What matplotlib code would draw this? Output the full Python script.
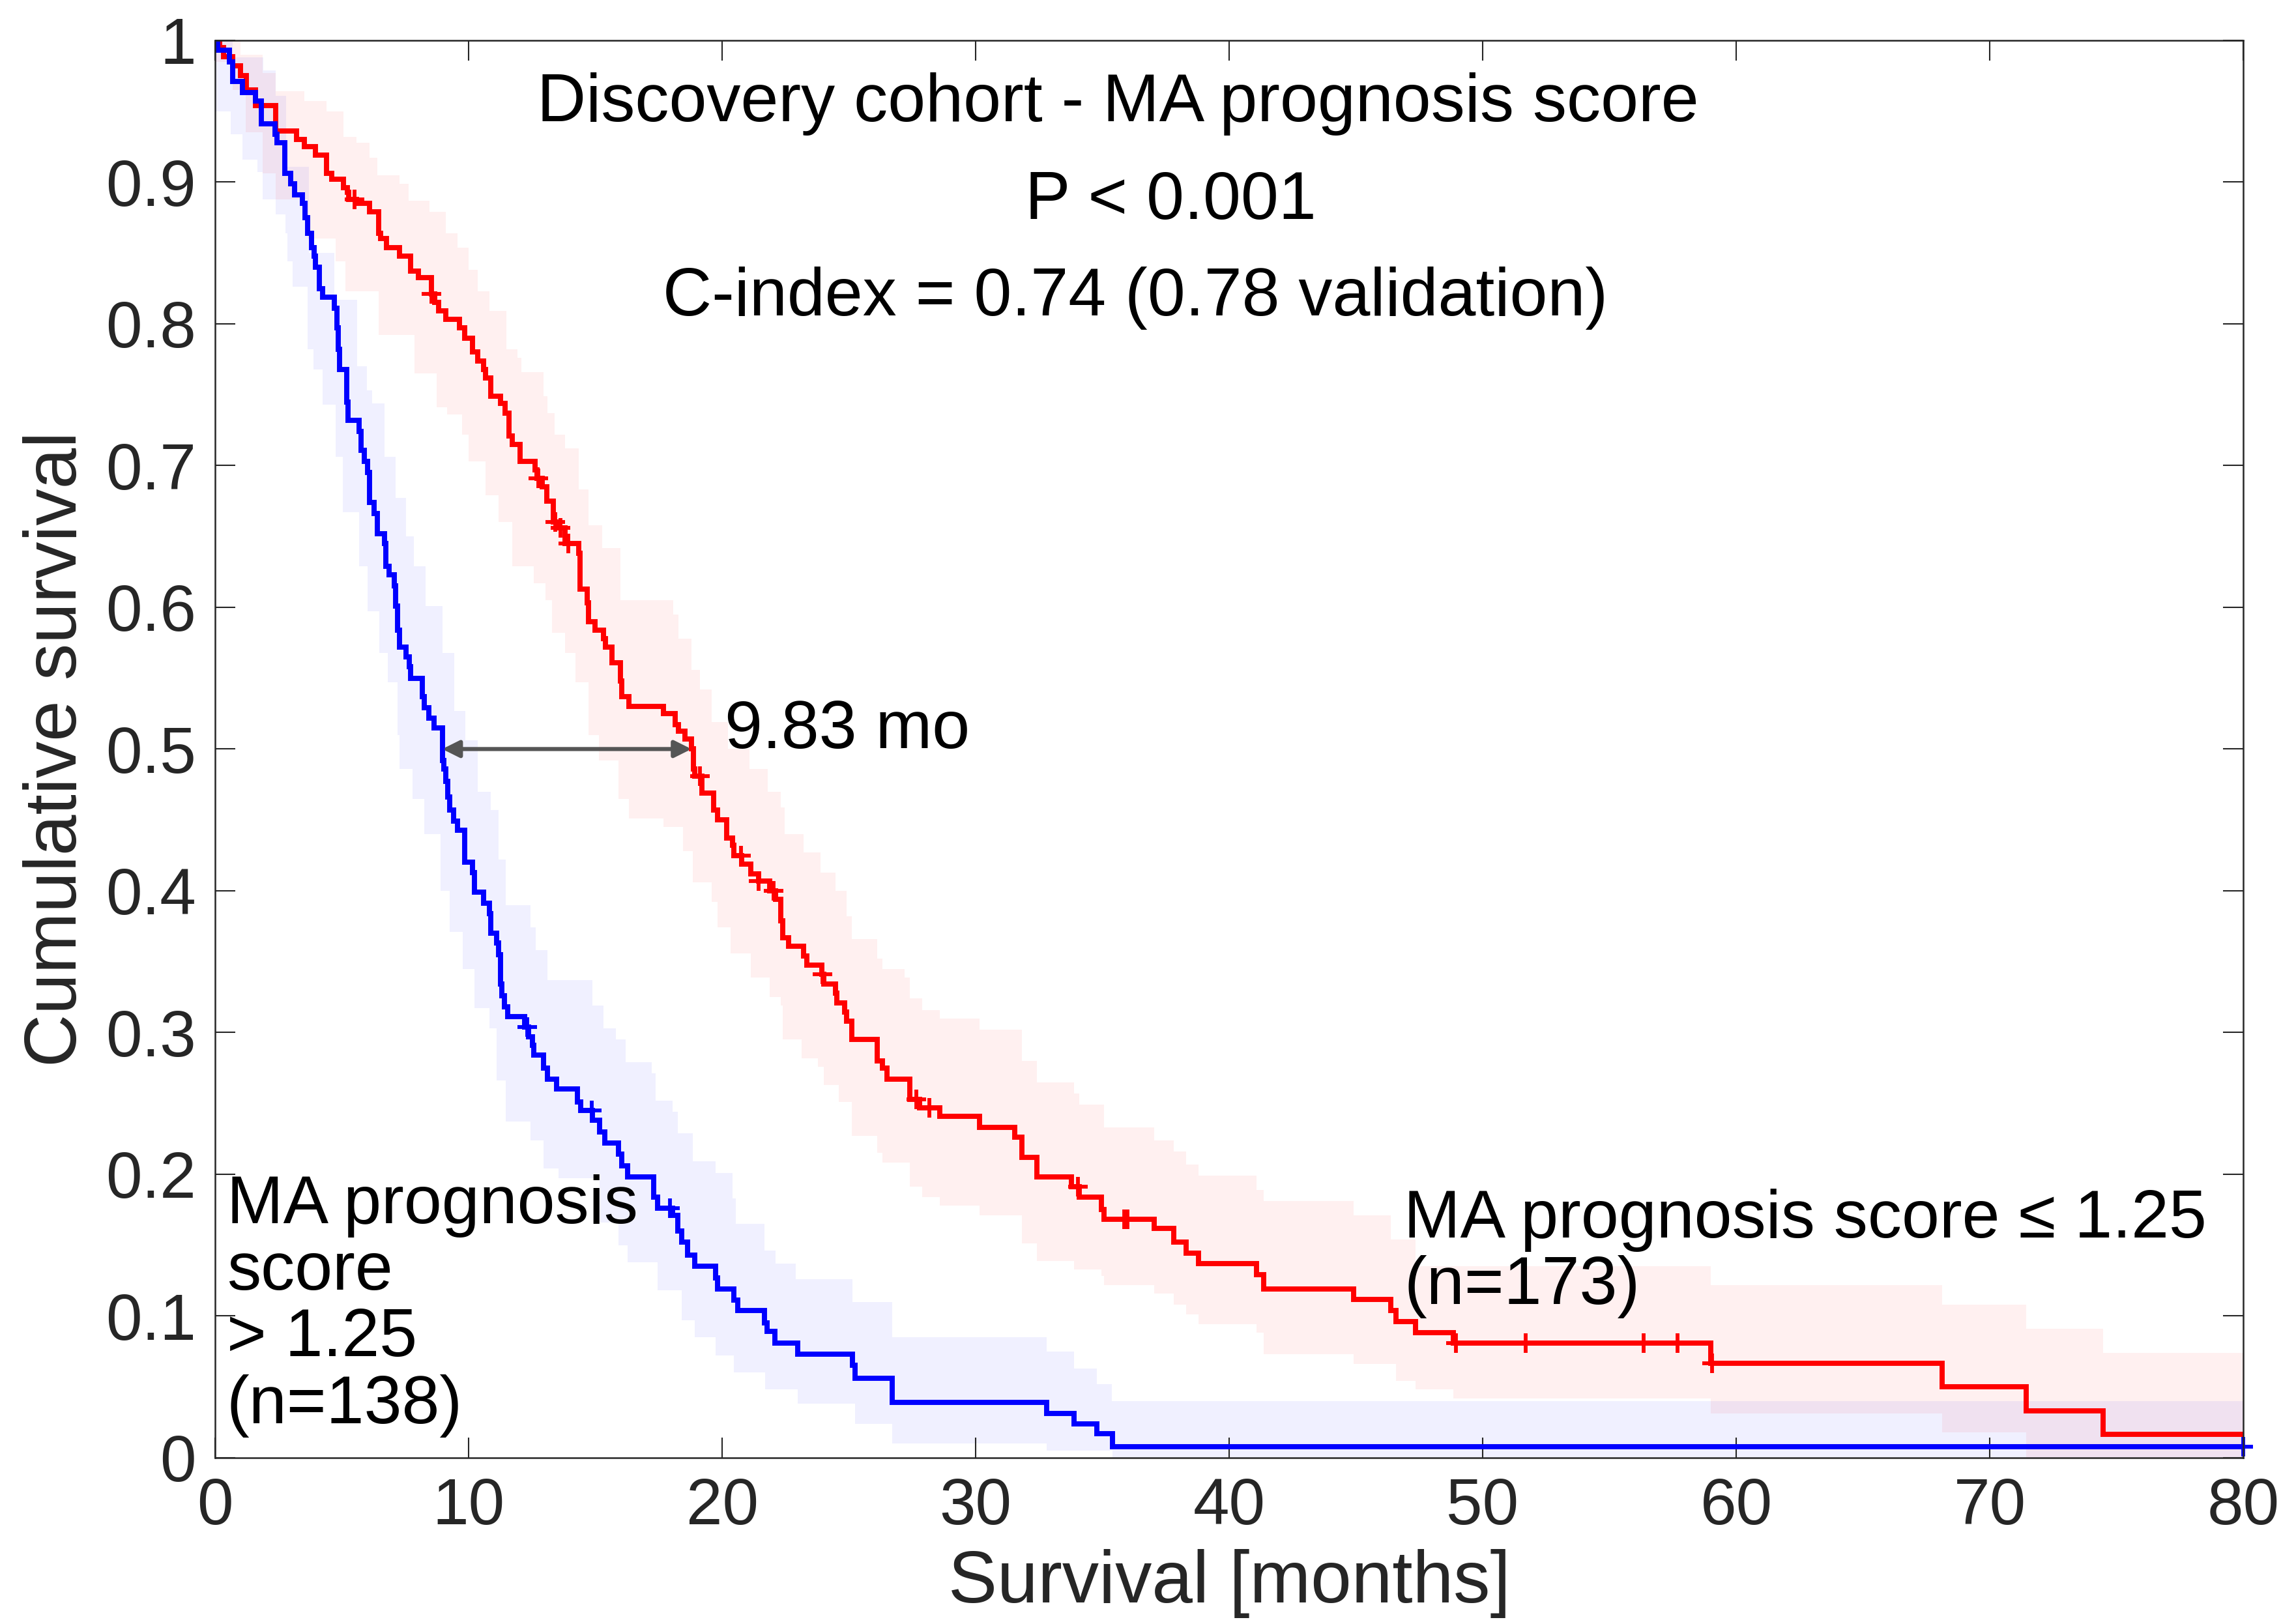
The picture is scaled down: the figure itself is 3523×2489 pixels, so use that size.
import numpy as np
import matplotlib
matplotlib.use("Agg")
import matplotlib.pyplot as plt

plt.rcParams['font.family'] = ['Liberation Sans', 'DejaVu Sans']

# Kaplan-Meier steps: time [months], survival after the step
blue_t = [0.0, 0.10, 0.56, 0.70, 1.07, 1.59, 1.81, 2.35, 2.45, 2.75, 2.99, 3.14, 3.43, 3.55, 3.66,
          3.80, 3.90, 3.95, 4.10, 4.25, 4.69, 4.80, 4.85, 4.91, 5.20, 5.25, 5.68, 5.75, 5.88, 6.01,
          6.08, 6.27, 6.40, 6.67, 6.73, 6.86, 7.06, 7.12, 7.19, 7.26, 7.52, 7.65, 7.71, 8.17, 8.24,
          8.44, 8.63, 8.96, 9.03, 9.09, 9.18, 9.26, 9.41, 9.56, 9.85, 10.14, 10.22, 10.59, 10.81,
          10.88, 11.10, 11.18, 11.25, 11.32, 11.40, 11.55, 12.21, 12.36, 12.51, 12.58, 12.95, 13.10,
          13.47, 14.28, 14.42, 14.87, 15.16, 15.38, 15.90, 16.05, 16.27, 17.30, 17.45, 18.04, 18.26,
          18.41, 18.63, 18.92, 19.73, 19.81, 20.47, 20.62, 21.68, 21.77, 22.09, 22.98, 25.13, 25.23,
          26.71, 32.80, 33.89, 34.77, 35.40]
blue_s = [1.0, 0.993, 0.985, 0.971, 0.963, 0.957, 0.941, 0.934, 0.928, 0.906, 0.899, 0.891, 0.885, 0.875, 0.864,
          0.854, 0.848, 0.840, 0.825, 0.819, 0.811, 0.797, 0.782, 0.768, 0.745, 0.732, 0.724, 0.711, 0.703, 0.695,
          0.674, 0.666, 0.652, 0.645, 0.629, 0.623, 0.615, 0.601, 0.584, 0.572, 0.565, 0.558, 0.550, 0.537, 0.529,
          0.522, 0.515, 0.492, 0.486, 0.477, 0.466, 0.457, 0.449, 0.4425, 0.420, 0.413, 0.399, 0.391, 0.384,
          0.370, 0.363, 0.355, 0.334, 0.326, 0.318, 0.311, 0.304, 0.297, 0.291, 0.284, 0.275, 0.267,
          0.260, 0.251, 0.245, 0.238, 0.230, 0.222, 0.214, 0.206, 0.198, 0.184, 0.176, 0.171, 0.160,
          0.152, 0.143, 0.135, 0.127, 0.119, 0.111, 0.104, 0.095, 0.089, 0.081, 0.073, 0.065, 0.056,
          0.039, 0.031, 0.024, 0.017, 0.0076]
blue_cens = [12.30, 14.85, 17.95, 80.0]

red_t = [0.0, 0.19, 0.34, 0.70, 1.00, 1.22, 1.59, 2.40, 3.21, 3.51, 3.95, 4.39, 4.61, 5.06, 5.21,
         5.28, 5.57, 6.09, 6.46, 6.53, 6.75, 7.27, 7.71, 8.01, 8.52, 8.67, 8.82, 9.11, 9.63, 9.85,
         10.15, 10.37, 10.59, 10.66, 10.88, 11.26, 11.45, 11.58, 11.71, 12.04, 12.63, 12.70, 12.90,
         13.09, 13.35, 13.55, 13.81, 14.34, 14.40, 14.67, 14.73, 14.99, 15.32, 15.39, 15.65, 15.98,
         16.04, 16.31, 17.68, 18.14, 18.27, 18.53, 18.80, 18.86, 18.93, 19.19, 19.66, 19.81, 20.18,
         20.40, 20.47, 20.77, 21.14, 21.43, 21.87, 22.10, 22.32, 22.39, 22.61, 23.20, 23.35, 23.94,
         24.02, 24.46, 24.53, 24.83, 24.90, 25.12, 26.12, 26.31, 26.51, 27.40, 27.79, 28.58, 30.15,
         31.53, 31.82, 32.41, 33.79, 34.08, 34.97, 35.07, 37.04, 37.82, 38.31, 38.80, 41.07, 41.36,
         44.91, 46.38, 46.58, 47.36, 48.84, 59.01, 68.12, 71.44, 74.48]
red_s = [1.0, 0.995, 0.9885, 0.982, 0.975, 0.965, 0.954, 0.936, 0.930, 0.925, 0.919, 0.906, 0.902, 0.896, 0.893,
         0.888, 0.885, 0.879, 0.864, 0.860, 0.854, 0.848, 0.837, 0.8325, 0.821, 0.815, 0.809, 0.803, 0.797, 0.790,
         0.780, 0.774, 0.768, 0.762, 0.749, 0.744, 0.737, 0.721, 0.715, 0.703, 0.697, 0.691, 0.685,
         0.675, 0.660, 0.656, 0.645, 0.638, 0.613, 0.603, 0.590, 0.584, 0.578, 0.572, 0.561, 0.548,
         0.537, 0.530, 0.525, 0.517, 0.5125, 0.507, 0.500, 0.486, 0.481, 0.469, 0.457, 0.450, 0.437,
         0.432, 0.425, 0.419, 0.412, 0.407, 0.400, 0.394, 0.379, 0.367, 0.361, 0.354, 0.3475, 0.341,
         0.334, 0.328, 0.321, 0.3145, 0.308, 0.295, 0.280, 0.275, 0.267, 0.253, 0.247, 0.241, 0.233,
         0.226, 0.212, 0.198, 0.191, 0.184, 0.175, 0.168, 0.162, 0.152, 0.1445, 0.137, 0.129, 0.119,
         0.1115, 0.104, 0.096, 0.088, 0.081, 0.0666, 0.050, 0.033, 0.0164]
red_cens = [5.50, 8.52, 12.76, 13.42, 13.62, 13.94, 19.13, 20.74, 21.43, 22.02, 23.96, 27.66, 28.18,
            34.03, 35.85, 35.99, 48.94, 51.69, 56.34, 57.69, 59.05]

# confidence band edges (step points)
blue_hi_t = [0.0, 0.7, 1.9, 2.4, 2.8, 3.7, 4.7, 5.6, 6.0, 6.2, 6.67, 7.12, 7.52, 7.85, 8.30, 8.96, 9.42,
             9.88, 10.35, 10.88, 11.18, 11.47, 12.43, 12.65, 13.10, 14.87, 15.31, 15.82, 16.19, 17.23,
             17.38, 18.04, 18.26, 18.85, 19.73, 20.40, 20.55, 21.66, 22.10, 22.91, 25.15, 26.70, 32.80,
             33.89, 34.77, 35.36]
blue_hi_s = [1.0, 0.988, 0.979, 0.961, 0.911, 0.850, 0.817, 0.770, 0.753, 0.744, 0.706, 0.677, 0.650, 0.629,
             0.601, 0.568, 0.527, 0.506, 0.470, 0.457, 0.422, 0.390, 0.374, 0.358, 0.337, 0.319, 0.303,
             0.295, 0.279, 0.271, 0.252, 0.244, 0.229, 0.209, 0.201, 0.183, 0.165, 0.146, 0.137, 0.126,
             0.110, 0.085, 0.075, 0.063, 0.052, 0.040]
blue_lo_t = [0.0, 0.62, 1.07, 1.66, 1.88, 2.40, 2.77, 2.84, 3.06, 3.66, 3.88, 4.25, 4.76, 5.03, 5.68,
             6.01, 6.47, 6.80, 7.19, 7.26, 7.78, 8.25, 8.89, 9.26, 9.77, 10.22, 10.81, 11.10, 11.47,
             12.43, 12.95, 13.54, 15.16, 15.90, 16.27, 17.45, 18.41, 18.92, 19.73, 20.47, 21.70, 22.98,
             25.23, 26.71, 32.80, 35.40]
blue_lo_s = [0.950, 0.934, 0.916, 0.907, 0.888, 0.877, 0.864, 0.844, 0.826, 0.782, 0.768, 0.743, 0.706, 0.667,
             0.629, 0.597, 0.568, 0.547, 0.510, 0.486, 0.465, 0.440, 0.400, 0.371, 0.345, 0.317, 0.303,
             0.266, 0.237, 0.224, 0.204, 0.197, 0.166, 0.150, 0.138, 0.118, 0.097, 0.085, 0.072, 0.060,
             0.048, 0.038, 0.024, 0.010, 0.005, 0.0]

red_hi_t = [0.0, 1.0, 1.88, 2.40, 3.51, 4.39, 5.06, 5.57, 6.09, 6.39, 7.27, 7.64, 8.45, 9.11, 9.56, 10.0,
            10.37, 10.81, 11.48, 11.92, 12.07, 12.96, 13.10, 13.40, 13.81, 14.34, 14.73, 15.26, 15.98,
            18.08, 18.27, 18.80, 19.13, 19.58, 20.24, 21.09, 21.81, 22.32, 22.47, 23.20, 23.87, 24.46,
            24.90, 25.12, 26.12, 26.31, 27.20, 27.40, 27.89, 28.58, 30.15, 31.82, 32.41, 33.89, 34.08,
            35.07, 37.04, 37.82, 38.31, 38.80, 41.07, 41.36, 44.91, 46.38, 47.36, 59.01, 68.12, 71.44,
            74.48]
red_hi_s = [1.0, 0.990, 0.977, 0.964, 0.957, 0.950, 0.932, 0.928, 0.917, 0.905, 0.899, 0.887, 0.879, 0.864,
            0.854, 0.838, 0.823, 0.809, 0.782, 0.776, 0.766, 0.749, 0.737, 0.722, 0.712, 0.683, 0.658,
            0.642, 0.605, 0.595, 0.578, 0.556, 0.542, 0.519, 0.500, 0.486, 0.470, 0.459, 0.440, 0.427,
            0.413, 0.400, 0.382, 0.366, 0.352, 0.345, 0.339, 0.324, 0.316, 0.310, 0.302, 0.280, 0.265,
            0.257, 0.249, 0.233, 0.224, 0.216, 0.207, 0.199, 0.189, 0.181, 0.171, 0.154, 0.135, 0.122,
            0.108, 0.091, 0.074]
red_lo_t = [0.0, 0.7, 1.2, 1.88, 2.40, 3.66, 4.76, 5.13, 6.46, 7.86, 8.75, 9.16, 9.75, 10.01, 10.67,
            11.19, 11.72, 12.57, 13.03, 13.29, 13.81, 14.21, 14.73, 15.13, 15.91, 16.31, 17.68, 18.45,
            18.85, 19.59, 19.81, 20.33, 21.14, 21.87, 22.32, 22.39, 23.13, 23.79, 24.02, 24.60, 25.12,
            26.12, 26.31, 27.40, 27.89, 28.58, 30.15, 31.82, 32.41, 33.89, 34.97, 35.07, 37.04, 37.82,
            38.31, 38.80, 41.07, 41.36, 44.91, 46.58, 47.36, 48.84, 59.01, 68.12, 71.44]
red_lo_s = [0.985, 0.965, 0.935, 0.906, 0.888, 0.860, 0.844, 0.823, 0.792, 0.765, 0.741, 0.736, 0.722, 0.703,
            0.679, 0.660, 0.629, 0.617, 0.605, 0.582, 0.568, 0.547, 0.510, 0.492, 0.465, 0.451, 0.445,
            0.428, 0.406, 0.392, 0.374, 0.356, 0.339, 0.325, 0.319, 0.295, 0.282, 0.276, 0.263, 0.251,
            0.227, 0.215, 0.208, 0.191, 0.184, 0.178, 0.171, 0.151, 0.139, 0.133, 0.128, 0.122, 0.116,
            0.108, 0.101, 0.094, 0.088, 0.073, 0.066, 0.054, 0.048, 0.042, 0.031, 0.018, 0.0]

median_blue = 8.96
median_red = 18.79
x_max = 80


def stairs(t, s, t_end):
    x = np.repeat(np.append(t, t_end), 2)[1:-1]
    y = np.repeat(s, 2)
    return x, y


def band(ax, tl, sl, th, sh, color):
    xh, yh = stairs(th, sh, x_max)
    xl, yl = stairs(tl, sl, x_max)
    ax.fill(np.concatenate([xh, xl[::-1]]), np.concatenate([yh, yl[::-1]]),
            color=color, alpha=0.06, lw=0)


def censor_y(t, s, c):
    idx = np.searchsorted(t, c, side='right') - 1
    return np.array(s)[idx]


fig = plt.figure(figsize=(3523 / 300, 2489 / 300), dpi=300)
ax = fig.add_axes([0.0937, 0.1013, 0.8833, 0.8738])

band(ax, blue_lo_t, blue_lo_s, blue_hi_t, blue_hi_s, 'blue')
band(ax, red_lo_t, red_lo_s, red_hi_t, red_hi_s, 'red')

for t, s, c, col in [(red_t, red_s, red_cens, '#ff0000'), (blue_t, blue_s, blue_cens, '#0000ff')]:
    x, y = stairs(t, s, x_max)
    ax.plot(x, y, color=col, lw=1.9, solid_joinstyle='miter')
    ax.plot(c, censor_y(t, s, c), '+', color=col, ms=7, mew=1.4, clip_on=False)

# median difference arrow
ax.annotate('', xy=(median_blue, 0.5), xytext=(median_red, 0.5),
            arrowprops=dict(arrowstyle='<|-|>', color='#555555', lw=1.5,
                            mutation_scale=13, shrinkA=0, shrinkB=0))
ax.text(20.1, 0.513, '9.83 mo', fontsize=25, ha='left', va='center')

ax.text(35.6, 0.955, 'Discovery cohort - MA prognosis score', fontsize=25, ha='center', va='center')
ax.text(37.7, 0.886, 'P < 0.001', fontsize=25, ha='center', va='center')
ax.text(36.3, 0.818, 'C-index = 0.74 (0.78 validation)', fontsize=25, ha='center', va='center')

ax.text(0.45, 0.200, 'MA prognosis\nscore\n> 1.25\n(n=138)', fontsize=25, ha='left', va='top',
        linespacing=1.07)
ax.text(46.9, 0.190, 'MA prognosis score \u2264 1.25\n(n=173)', fontsize=25, ha='left', va='top',
        linespacing=1.07)

ax.set_xlim(0, x_max)
ax.set_ylim(0, 1)
ax.set_xticks(np.arange(0, 81, 10))
ax.set_yticks(np.arange(0, 1.01, 0.1))
ax.set_yticklabels(['0', '0.1', '0.2', '0.3', '0.4', '0.5', '0.6', '0.7', '0.8', '0.9', '1'])
ax.tick_params(direction='in', length=7.5, width=0.5, top=True, right=True,
               labelsize=24, labelcolor='#262626', color='#262626', pad=7)
for sp in ax.spines.values():
    sp.set_linewidth(0.6)
    sp.set_color('#262626')

ax.set_xlabel('Survival [months]', fontsize=27, color='#262626', labelpad=4)
ax.set_ylabel('Cumulative survival', fontsize=27, color='#262626', labelpad=5)

fig.savefig('out.png', dpi=300)
